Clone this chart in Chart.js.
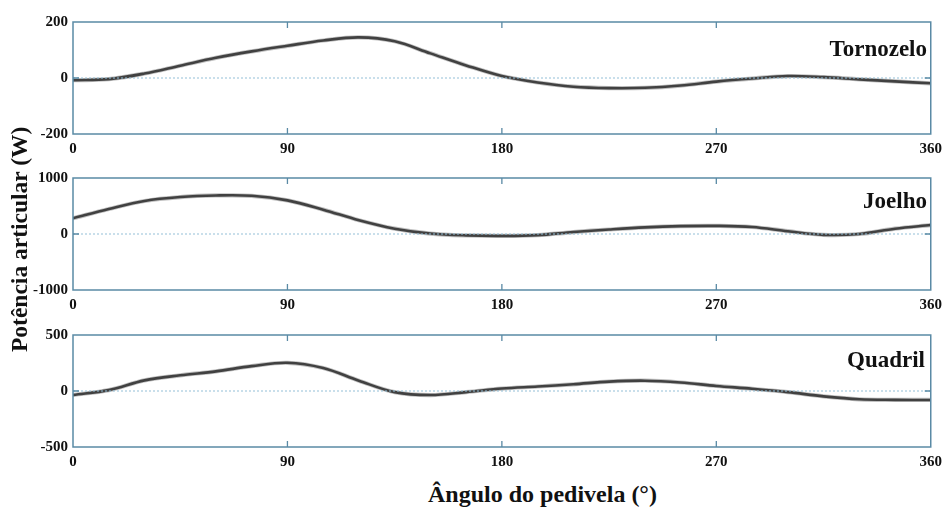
<!DOCTYPE html>
<html>
<head>
<meta charset="utf-8">
<script src="https://cdn.jsdelivr.net/npm/chart.js@4"></script>
<style>
  html, body { margin:0; padding:0; background:#fff; }
  #wrap { position:relative; width:948px; height:507px; overflow:hidden; }
  canvas { position:absolute; left:0; }
  .lbl { position:absolute; font-family:"Liberation Serif","DejaVu Serif",serif; font-weight:bold; color:#111; white-space:nowrap; line-height:1; }
</style>
</head>
<body>
<div id="wrap">
  <canvas id="c1" width="948" height="160" style="top:0px"></canvas>
  <canvas id="c2" width="948" height="155" style="top:160px"></canvas>
  <canvas id="c3" width="948" height="160" style="top:315px"></canvas>
  <div class="lbl" style="right:21px; top:37px; font-size:23px;">Tornozelo</div>
  <div class="lbl" style="right:21px; top:189px; font-size:23px;">Joelho</div>
  <div class="lbl" style="right:23px; top:348px; font-size:23px;">Quadril</div>
  <div class="lbl" style="left:0; top:0; font-size:23.5px; transform-origin:0 0; transform:translate(8px, 352px) rotate(-90deg);">Potência articular (W)</div>
  <div class="lbl" style="left:428px; top:482px; font-size:24px;">Ângulo do pedivela (°)</div>
</div>
<script>
// Crank angle (degrees)
const angles = [0,15,30,45,60,75,90,105,120,135,150,165,180,195,210,225,240,255,270,285,300,315,330,345,360];
// Joint power (W)
const tornozelo = [-8,-4,16,44,72,95,115,134,145,131,88,45,7,-16,-31,-36,-35,-27,-13,-2,7,3,-5,-12,-19];
const joelho    = [280,445,590,660,688,682,600,435,245,95,8,-25,-33,-20,35,80,118,140,145,125,50,-15,0,95,160];
const quadril   = [-36,8,95,140,175,222,252,205,92,-10,-36,-10,22,40,60,84,92,76,45,20,-10,-48,-74,-79,-80];
// Tick labels
const xTicks = [0,90,180,270,360];
const yTicksT = [-200,0,200];
const yTicksJ = [-1000,0,1000];
const yTicksQ = [-500,0,500];

const FRAME = '#5a8aa5';
const FONT = {family:'"Liberation Serif","DejaVu Serif",serif', weight:'bold', size:15};

const framePlugin = {
  id:'frame',
  afterDatasetsDraw(chart){
    const {ctx, chartArea:a, scales} = chart;
    const x = scales.x, y = scales.y;
    ctx.save();
    const y0 = y.getPixelForValue(0);
    ctx.strokeStyle = '#93bfd8'; ctx.lineWidth = 1; ctx.setLineDash([2,2]);
    ctx.beginPath(); ctx.moveTo(a.left, y0); ctx.lineTo(a.right, y0); ctx.stroke();
    ctx.setLineDash([]);
    ctx.strokeStyle = FRAME; ctx.lineWidth = 1.3;
    ctx.beginPath();
    [90,180,270].forEach(v=>{
      const px = x.getPixelForValue(v);
      ctx.moveTo(px, a.top); ctx.lineTo(px, a.top+6);
      ctx.moveTo(px, a.bottom); ctx.lineTo(px, a.bottom-6);
    });
    ctx.moveTo(a.left, y0); ctx.lineTo(a.left+6, y0);
    ctx.moveTo(a.right, y0); ctx.lineTo(a.right-6, y0);
    ctx.stroke();
    ctx.lineWidth = 1.5;
    ctx.strokeRect(a.left, a.top, a.right-a.left, a.bottom-a.top);
    ctx.restore();
  }
};

function makePanel(id, vals, yTicks, padTop, xH){
  const pts = angles.map((a,i)=>({x:a, y:vals[i]}));
  new Chart(document.getElementById(id), {
    type:'line',
    data:{ datasets:[
      {data:pts, borderColor:'rgba(130,130,130,0.5)', borderWidth:4.2, pointRadius:0, tension:0.35},
      {data:pts, borderColor:'#000', borderWidth:2.6, pointRadius:0, tension:0.35}
    ]},
    options:{
      responsive:false, animation:false, maintainAspectRatio:false,
      layout:{padding:{top:padTop, right:13, left:0, bottom:0}},
      plugins:{legend:{display:false}, tooltip:{enabled:false}},
      scales:{
        x:{type:'linear', min:0, max:360,
           afterBuildTicks:s=>{ s.ticks = xTicks.map(v=>({value:v})); },
           afterFit:s=>{ s.height = xH; },
           grid:{display:false, drawTicks:false}, border:{display:false},
           ticks:{font:FONT, color:'#111', padding:6, maxRotation:0, autoSkip:false, callback:v=>String(v)}},
        y:{min:yTicks[0], max:yTicks[yTicks.length-1],
           afterBuildTicks:s=>{ s.ticks = yTicks.map(v=>({value:v})); },
           afterFit:s=>{ s.width = 73; },
           grid:{display:false, drawTicks:false}, border:{display:false},
           ticks:{font:FONT, color:'#111', padding:5, callback:v=>String(v)}}
      }
    },
    plugins:[framePlugin]
  });
}

makePanel('c1', tornozelo, yTicksT, 22, 26);
makePanel('c2', joelho, yTicksJ, 18, 25);
makePanel('c3', quadril, yTicksQ, 20, 28);
</script>
</body>
</html>
